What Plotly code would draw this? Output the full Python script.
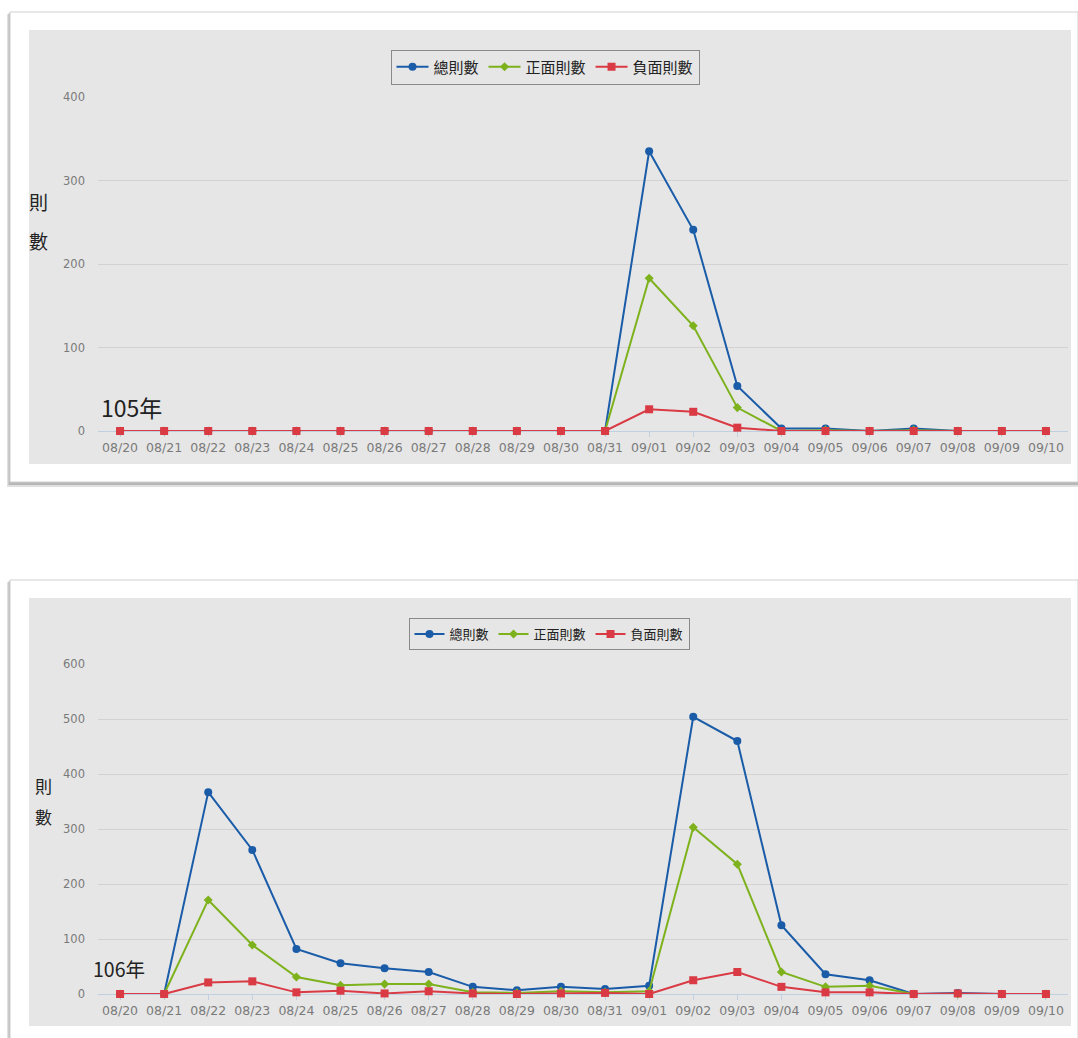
import plotly.graph_objects as go

dates = ["08/20","08/21","08/22","08/23","08/24","08/25","08/26","08/27","08/28","08/29","08/30",
         "08/31","09/01","09/02","09/03","09/04","09/05","09/06","09/07","09/08","09/09","09/10"]

series_names = ["總則數", "正面則數", "負面則數"]

# 105年
total_105    = [0,0,0,0,0,0,0,0,0,0,0,0,335,241,54,3,3,0,3,0,0,0]
positive_105 = [0,0,0,0,0,0,0,0,0,0,0,0,183,126,28,0,1,0,1,0,0,0]
negative_105 = [0,0,0,0,0,0,0,0,0,0,0,0,26,23,4,0,0,0,0,0,0,0]

# 106年
total_106    = [0,0,367,262,82,56,47,40,13,7,13,9,15,504,460,125,36,25,0,2,0,0]
positive_106 = [0,0,171,89,31,16,18,18,3,2,5,3,5,303,236,40,13,15,0,0,0,0]
negative_106 = [0,0,21,23,3,6,1,5,1,0,1,2,0,25,40,13,3,3,0,1,0,0]

W, H = 1078, 1038
def px(x): return x / W
def py(y): return 1 - y / H

colors = ["#1a5ca8", "#7db21c", "#d93a44"]
symbols = ["circle", "diamond", "square"]
msizes = [8, 7, 8]

fig = go.Figure()

groups = [
    ([total_105, positive_105, negative_105], "x", "y", "legend"),
    ([total_106, positive_106, negative_106], "x2", "y2", "legend2"),
]
for vals, xa, ya, lg in groups:
    for i, v in enumerate(vals):
        fig.add_trace(go.Scatter(
            x=dates, y=v, name=series_names[i], mode="lines+markers",
            line=dict(color=colors[i], width=2),
            marker=dict(symbol=symbols[i], size=msizes[i], color=colors[i]),
            xaxis=xa, yaxis=ya, legend=lg, cliponaxis=False,
        ))

xfont = dict(family="DejaVu Sans, Verdana, sans-serif", size=12.5, color="#7a7a7a")
yfont = dict(family="DejaVu Sans, Verdana, sans-serif", size=11.5, color="#7a7a7a")
xcommon = dict(type="category", showgrid=False, ticks="outside",
               ticklen=5, tickcolor="#c0d0e0", showline=True, linecolor="#c0d0e0",
               linewidth=1, tickfont=xfont, tickangle=0, fixedrange=True,
               layer="below traces")
ycommon = dict(showgrid=True, gridcolor="#d2d2d2", gridwidth=1, zeroline=False,
               showline=False, tickfont=yfont, ticklabelstandoff=12, fixedrange=True,
               layer="below traces")

fig.update_layout(
    width=W, height=H, margin=dict(l=0, r=0, t=0, b=0, pad=0, autoexpand=False),
    paper_bgcolor="white", plot_bgcolor="rgba(0,0,0,0)",
    xaxis=dict(xcommon, domain=[px(98), px(1068)], anchor="y", range=[-0.5, 21.5]),
    yaxis=dict(ycommon, domain=[py(431), py(97)], anchor="x", range=[0, 400], dtick=100),
    xaxis2=dict(xcommon, domain=[px(98), px(1068)], anchor="y2", range=[-0.5, 21.5]),
    yaxis2=dict(ycommon, domain=[py(994), py(664)], anchor="x2", range=[0, 600], dtick=100),
    legend=dict(orientation="h", x=px(545), xanchor="center", y=py(67), yanchor="middle",
                bgcolor="rgba(0,0,0,0)", bordercolor="#8a8a8a", borderwidth=1,
                font=dict(family="Noto Sans CJK TC", size=15, color="#222"),
                itemwidth=32, tracegroupgap=0),
    legend2=dict(orientation="h", x=px(549), xanchor="center", y=py(634), yanchor="middle",
                 bgcolor="rgba(0,0,0,0)", bordercolor="#8a8a8a", borderwidth=1,
                 font=dict(family="Noto Sans CJK TC", size=13, color="#222"),
                 itemwidth=30, tracegroupgap=0),
    showlegend=True,
)

shapes = []
for (top, bottom, gtop, gbottom) in [(12, 482, 30, 464), (580, 1045, 598, 1026)]:
    shapes.append(dict(type="rect", xref="paper", yref="paper", layer="below",
                       x0=px(7), x1=px(1078), y0=py(bottom + 5), y1=py(top + 2),
                       fillcolor="rgba(0,0,0,0.12)", line=dict(width=0)))
    shapes.append(dict(type="rect", xref="paper", yref="paper", layer="below",
                       x0=px(8.5), x1=px(1078), y0=py(bottom + 3), y1=py(top + 1),
                       fillcolor="rgba(0,0,0,0.18)", line=dict(width=0)))
    shapes.append(dict(type="rect", xref="paper", yref="paper", layer="below",
                       x0=px(10), x1=px(1078), y0=py(bottom), y1=py(top),
                       fillcolor="white", line=dict(color="#d0d0d0", width=1)))
    shapes.append(dict(type="rect", xref="paper", yref="paper", layer="below",
                       x0=px(29), x1=px(1071), y0=py(gbottom), y1=py(gtop),
                       fillcolor="#e6e6e6", line=dict(width=0)))
fig.update_layout(shapes=shapes)

ann_font_cjk = "Noto Sans CJK TC"
annotations = [
    dict(text="則", x=px(38), y=py(201), size=19),
    dict(text="數", x=px(38), y=py(240), size=19),
    dict(text="則", x=px(43), y=py(785), size=17),
    dict(text="數", x=px(43), y=py(816), size=17),
]
anns = []
for a in annotations:
    anns.append(dict(text=a["text"], x=a["x"], y=a["y"], xref="paper", yref="paper",
                     xanchor="center", yanchor="middle", showarrow=False,
                     font=dict(family=ann_font_cjk, size=a["size"], color="#222")))
anns.append(dict(text="105年", x=px(99), y=py(407), xref="paper", yref="paper",
                 xanchor="left", yanchor="middle", showarrow=False,
                 font=dict(family=ann_font_cjk, size=23, color="#222")))
anns.append(dict(text="106年", x=px(91), y=py(968), xref="paper", yref="paper",
                 xanchor="left", yanchor="middle", showarrow=False,
                 font=dict(family=ann_font_cjk, size=19.5, color="#222")))
fig.update_layout(annotations=anns)

fig.write_html("out.html", config={"displayModeBar": False},
               post_script="document.body.style.margin='0';document.body.style.overflow='hidden';")
